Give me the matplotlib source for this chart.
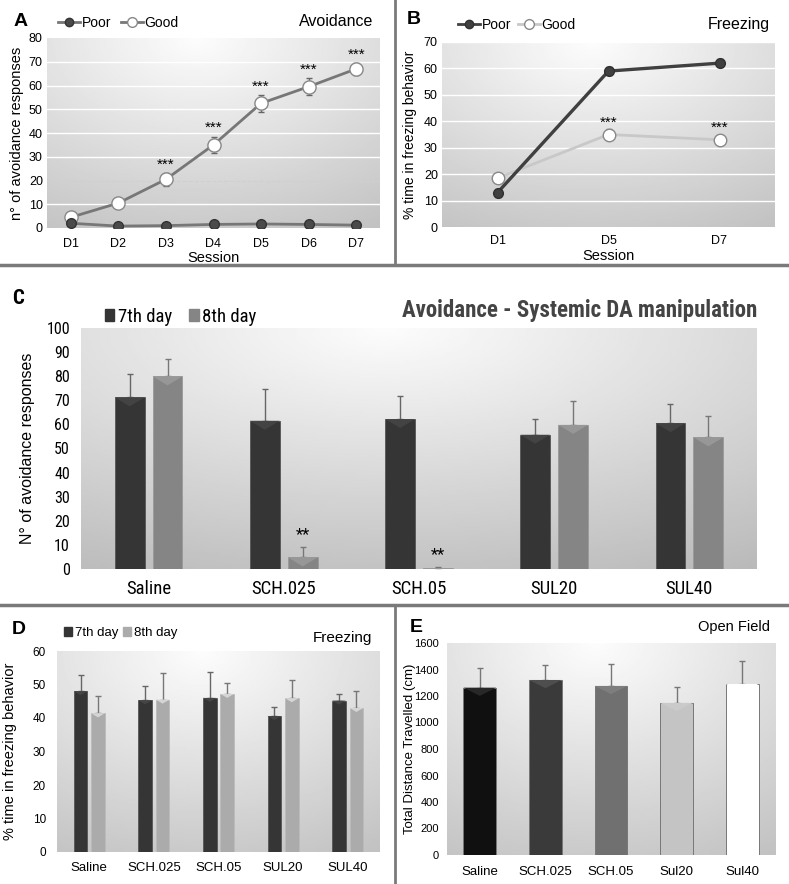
import numpy as np
import matplotlib
matplotlib.use("Agg")
import matplotlib.pyplot as plt
from matplotlib import font_manager
from matplotlib.lines import Line2D
from matplotlib.patches import Patch, Polygon
from matplotlib.colors import to_rgb

plt.rcParams['font.family'] = ['Liberation Sans', 'DejaVu Sans']
installed = {f.name for f in font_manager.fontManager.ttflist}
NARROW = ['Liberation Sans']
for cand in ['Liberation Sans Narrow', 'Roboto Condensed', 'Open Sans Condensed']:
    if cand in installed:
        NARROW = [cand, 'Liberation Sans']
        break

# ---- data ----
sessions_a = ["D1", "D2", "D3", "D4", "D5", "D6", "D7"]
good_a = [4.5, 10.5, 20.5, 35, 52.5, 59.5, 67]
good_a_err = [1.0, 1.2, 2.8, 3.5, 3.5, 3.5, 2.5]
poor_a = [2.0, 0.8, 1.0, 1.5, 1.7, 1.5, 1.2]
poor_a_err = [0.5, 0.3, 0.3, 0.3, 0.3, 0.3, 0.3]
stars_a = ["", "", "***", "***", "***", "***", "***"]

sessions_b = ["D1", "D5", "D7"]
poor_b = [13, 59, 62]
poor_b_err = [1.5, 1.5, 1.5]
good_b = [18.5, 35, 33]
good_b_err = [1.5, 2.0, 2.0]
stars_b = ["", "***", "***"]

groups_c = ["Saline", "SCH.025", "SCH.05", "SUL20", "SUL40"]
day7_c = [71.2, 61.5, 62.2, 55.7, 60.5]
day7_c_err = [9.6, 13.3, 9.5, 6.6, 8.1]
day8_c = [79.9, 4.8, 0.4, 59.8, 54.6]
day8_c_err = [7.2, 4.5, 0.4, 9.9, 8.8]
stars_c = ["", "**", "**", "", ""]

groups_d = ["Saline", "SCH.025", "SCH.05", "SUL20", "SUL40"]
day7_d = [48, 45.3, 46, 40.6, 45.2]
day7_d_err = [4.7, 4.3, 7.8, 2.7, 2.1]
day8_d = [41.4, 45.5, 47.2, 45.9, 43]
day8_d_err = [5.1, 8.0, 3.3, 5.5, 5.0]

groups_e = ["Saline", "SCH.025", "SCH.05", "Sul20", "Sul40"]
dist_e = [1263, 1321, 1276, 1148, 1291]
dist_e_err = [151, 113, 163, 120, 171]
colors_e = ["#101010", "#3a3a3a", "#707070", "#c4c4c4", "#ffffff"]

W, H = 789, 884
fig = plt.figure(figsize=(W / 100, H / 100), dpi=100)


def rect(l, t, r, b):
    return [l / W, 1 - b / H, (r - l) / W, (b - t) / H]


def shade(ax, dark=0.22):
    yy, xx = np.mgrid[0:1:120j, 0:1:240j]
    d = np.sqrt((xx - 0.45) ** 2 + (yy * 0.9) ** 2)
    img = 0.99 - dark * d
    ax.imshow(img, cmap="gray", vmin=0, vmax=1, extent=[0, 1, 0, 1],
              transform=ax.transAxes, aspect="auto", zorder=0, origin="upper")


def clean(ax):
    for s in ax.spines.values():
        s.set_visible(False)
    ax.tick_params(length=0)


def bevel(ax, bars, lighten=0.1, frac=0.3):
    # small "excel style" triangle at the top of each bar
    ymin, ymax = ax.get_ylim()
    xmin, xmax = ax.get_xlim()
    pos = ax.get_position()
    y_per_px = (ymax - ymin) / (pos.height * H)
    x_per_px = (xmax - xmin) / (pos.width * W)
    for b in bars:
        x0, w, top = b.get_x(), b.get_width(), b.get_height()
        depth = min(frac * w / x_per_px * y_per_px, top)
        c = np.array(to_rgb(b.get_facecolor()))
        c = c + (1 - c) * lighten
        ax.add_patch(Polygon([(x0, top), (x0 + w, top), (x0 + w / 2, top - depth)],
                             closed=True, facecolor=c, edgecolor="none", zorder=2.1))


def fx(px):
    return px / W


def fy(py):
    return 1 - py / H


leg_kw = dict(frameon=False, ncol=2, borderpad=0, borderaxespad=0)

# ---- panel A ----
axA = fig.add_axes(rect(47, 38, 380, 228))
shade(axA)
xa = np.arange(len(sessions_a))
for v in [10, 30, 40, 50, 60, 70]:
    axA.axhline(v, color="white", lw=1, zorder=1)
axA.axhline(20, color="#d0d0d0", lw=0.8, ls="--", zorder=1)
axA.errorbar(xa, good_a, yerr=good_a_err, color="#777777", lw=2, marker="o", ms=9.5,
             mfc="white", mec="#888888", ecolor="#666666", elinewidth=1, capsize=2, zorder=3)
axA.errorbar(xa, poor_a, yerr=poor_a_err, color="#777777", lw=2, marker="o", ms=7,
             mfc="#4a4a4a", mec="#333333", ecolor="#666666", elinewidth=1, capsize=2, zorder=3)
for x, v, e, s in zip(xa, good_a, good_a_err, stars_a):
    if s:
        axA.text(x, v + e + 3.5, s, ha="center", va="center", fontsize=11)
axA.set_xlim(-0.5, 6.5)
axA.set_ylim(0, 80)
axA.set_xticks(xa, sessions_a, fontsize=9)
axA.set_yticks(range(0, 81, 10))
axA.tick_params(axis="y", labelsize=9, pad=3)
axA.tick_params(axis="x", pad=7)
clean(axA)
axA.set_ylabel("n° of avoidance responses", fontsize=10.5)
axA.yaxis.set_label_coords(-0.069, 0.5)
axA.set_xlabel("Session", fontsize=10.5)
axA.xaxis.set_label_coords(0.5, -0.12)
fig.text(fx(14), fy(22), "A", fontsize=14, fontweight="bold", va="center")
fig.text(fx(373), fy(22), "Avoidance", fontsize=11.5, ha="right", va="center")
hA = [Line2D([], [], color="#777777", lw=2, marker="o", ms=6, mfc="#4a4a4a", mec="#333333"),
      Line2D([], [], color="#777777", lw=2, marker="o", ms=7, mfc="white", mec="#888888")]
fig.legend(hA, ["Poor", "Good"], loc="center left", bbox_to_anchor=(fx(58), fy(23)),
           fontsize=10, handlelength=1.6, handletextpad=0.1, columnspacing=0.7, **leg_kw)

# ---- panel B ----
axB = fig.add_axes(rect(442, 42, 775, 227))
shade(axB)
xb = np.arange(len(sessions_b))
for v in range(10, 71, 10):
    axB.axhline(v, color="white", lw=1, zorder=1)
axB.errorbar(xb, good_b, yerr=good_b_err, color="#c8c8c8", lw=2, marker="o", ms=9,
             mfc="white", mec="#888888", ecolor="#777777", elinewidth=1, capsize=2, zorder=3)
axB.errorbar(xb, poor_b, yerr=poor_b_err, color="#404040", lw=2.4, marker="o", ms=7,
             mfc="#404040", mec="#303030", ecolor="#555555", elinewidth=1, capsize=2, zorder=4)
for x, v, e, s in zip(xb, good_b, good_b_err, stars_b):
    if s:
        axB.text(x, v + e + 2.5, s, ha="center", va="center", fontsize=11)
axB.set_xlim(-0.5, 2.5)
axB.set_ylim(0, 70)
axB.set_xticks(xb, sessions_b, fontsize=9)
axB.set_yticks(range(0, 71, 10))
axB.tick_params(axis="y", labelsize=9, pad=3)
axB.tick_params(axis="x", pad=6)
clean(axB)
axB.set_ylabel("% time in freezing behavior", fontsize=10)
axB.yaxis.set_label_coords(-0.075, 0.5)
axB.set_xlabel("Session", fontsize=10.5)
axB.xaxis.set_label_coords(0.5, -0.12)
fig.text(fx(407), fy(20), "B", fontsize=14, fontweight="bold", va="center")
fig.text(fx(770), fy(25), "Freezing", fontsize=11.5, ha="right", va="center")
hB = [Line2D([], [], color="#404040", lw=2, marker="o", ms=6, mfc="#404040", mec="#303030"),
      Line2D([], [], color="#c8c8c8", lw=2, marker="o", ms=7, mfc="white", mec="#888888")]
fig.legend(hB, ["Poor", "Good"], loc="center left", bbox_to_anchor=(fx(458), fy(25)),
           fontsize=10, handlelength=1.6, handletextpad=0.1, columnspacing=0.5, **leg_kw)

# ---- panel C ----
axC = fig.add_axes(rect(81, 328, 757, 569))
shade(axC, dark=0.25)
xc = np.arange(len(groups_c))
bw = 0.22
axC.set_xlim(-0.5, 4.5)
axC.set_ylim(0, 100)
b7 = axC.bar(xc - 0.14, day7_c, bw, color="#353535", edgecolor="#555555", lw=0.6, zorder=2)
b8 = axC.bar(xc + 0.14, day8_c, bw, color="#858585", edgecolor="#999999", lw=0.6, zorder=2)
bevel(axC, b7, 0.07)
bevel(axC, b8, 0.15)
axC.errorbar(xc - 0.14, day7_c, yerr=[np.zeros(5), day7_c_err], fmt="none",
             ecolor="#666666", elinewidth=1, capsize=2, zorder=1.5)
axC.errorbar(xc + 0.14, day8_c, yerr=[np.zeros(5), day8_c_err], fmt="none",
             ecolor="#777777", elinewidth=1, capsize=2, zorder=1.5)
for x, v, e, s in zip(xc, day8_c, day8_c_err, stars_c):
    if s:
        axC.text(x + 0.14, v + e + 5, s, ha="center", va="center", fontsize=12,
                 family=NARROW)
axC.set_xticks(xc, groups_c, fontsize=13.5, family=NARROW)
axC.set_yticks(range(0, 101, 10))
for t in axC.get_yticklabels():
    t.set_family(NARROW)
axC.tick_params(axis="y", labelsize=11.5, pad=8)
axC.tick_params(axis="x", pad=8)
clean(axC)
axC.set_ylabel("N° of avoidance responses", fontsize=11.5)
axC.yaxis.set_label_coords(-0.068, 0.5)
fig.text(fx(12), fy(298), "C", fontsize=15, fontweight="bold", va="center", family=NARROW)
fig.text(fx(757), fy(310), "Avoidance - Systemic DA manipulation", fontsize=16.5,
         fontweight="bold", color="#444444", ha="right", va="center", family=NARROW)
hC = [Patch(color="#353535"), Patch(color="#858585")]
fig.legend(hC, ["7th day", "8th day"], loc="center left", bbox_to_anchor=(fx(105), fy(317)),
           prop={"family": NARROW, "size": 13.5}, handlelength=0.5, handleheight=0.6,
           handletextpad=0.2, columnspacing=0.9, **leg_kw)

# ---- panel D ----
axD = fig.add_axes(rect(57, 651, 380, 852))
shade(axD)
xd = np.arange(len(groups_d))
bwd = 0.21
axD.set_xlim(-0.5, 4.5)
axD.set_ylim(0, 60)
d7 = axD.bar(xd - 0.135, day7_d, bwd, color="#353535", edgecolor="#555555", lw=0.6, zorder=2)
d8 = axD.bar(xd + 0.135, day8_d, bwd, color="#ababab", edgecolor="#bbbbbb", lw=0.6, zorder=2)
bevel(axD, d7, 0.08)
bevel(axD, d8, 0.5)
axD.errorbar(xd - 0.135, day7_d, yerr=[np.zeros(5), day7_d_err], fmt="none",
             ecolor="#666666", elinewidth=1, capsize=2, zorder=1.5)
axD.errorbar(xd + 0.135, day8_d, yerr=[np.zeros(5), day8_d_err], fmt="none",
             ecolor="#777777", elinewidth=1, capsize=2, zorder=1.5)
axD.set_xticks(xd, groups_d, fontsize=9.5)
axD.set_yticks(range(0, 61, 10))
axD.tick_params(axis="y", labelsize=8.5, pad=8)
axD.tick_params(axis="x", pad=7)
clean(axD)
axD.set_ylabel("% time in freezing behavior", fontsize=10.5)
axD.yaxis.set_label_coords(-0.124, 0.5)
fig.text(fx(12), fy(630), "D", fontsize=14, fontweight="bold", va="center")
fig.text(fx(372), fy(638), "Freezing", fontsize=11, ha="right", va="center")
hD = [Patch(color="#353535"), Patch(color="#ababab")]
fig.legend(hD, ["7th day", "8th day"], loc="center left", bbox_to_anchor=(fx(64), fy(633)),
           fontsize=9.5, handlelength=0.6, handleheight=0.6, handletextpad=0.2,
           columnspacing=0.4, **leg_kw)

# ---- panel E ----
axE = fig.add_axes(rect(447, 643, 775, 855))
shade(axE)
xe = np.arange(len(groups_e))
axE.set_xlim(-0.5, 4.5)
axE.set_ylim(0, 1600)
eb = axE.bar(xe, dist_e, 0.5, color=colors_e, edgecolor="#777777", lw=0.7, zorder=2)
bevel(axE, eb, 0.1, 0.25)
axE.errorbar(xe, dist_e, yerr=[np.zeros(5), dist_e_err], fmt="none",
             ecolor="#777777", elinewidth=1, capsize=2, zorder=1.5)
axE.set_xticks(xe, groups_e, fontsize=9.5)
axE.set_yticks(range(0, 1601, 200))
axE.tick_params(axis="y", labelsize=8, pad=6)
axE.tick_params(axis="x", pad=8)
clean(axE)
axE.set_ylabel("Total Distance Travelled (cm)", fontsize=9.5)
axE.yaxis.set_label_coords(-0.095, 0.5)
fig.text(fx(410), fy(627), "E", fontsize=14, fontweight="bold", va="center")
fig.text(fx(770), fy(627), "Open Field", fontsize=10.5, ha="right", va="center")

# ---- panel dividers ----
div = "#7a7a7a"
fig.add_artist(Line2D([0, 1], [fy(265), fy(265)], color=div, lw=2.5, transform=fig.transFigure))
fig.add_artist(Line2D([0, 1], [fy(605), fy(605)], color=div, lw=2.5, transform=fig.transFigure))
fig.add_artist(Line2D([fx(395), fx(395)], [fy(0), fy(265)], color=div, lw=2, transform=fig.transFigure))
fig.add_artist(Line2D([fx(395), fx(395)], [fy(605), fy(884)], color=div, lw=2, transform=fig.transFigure))

fig.savefig("out.png", dpi=100)
